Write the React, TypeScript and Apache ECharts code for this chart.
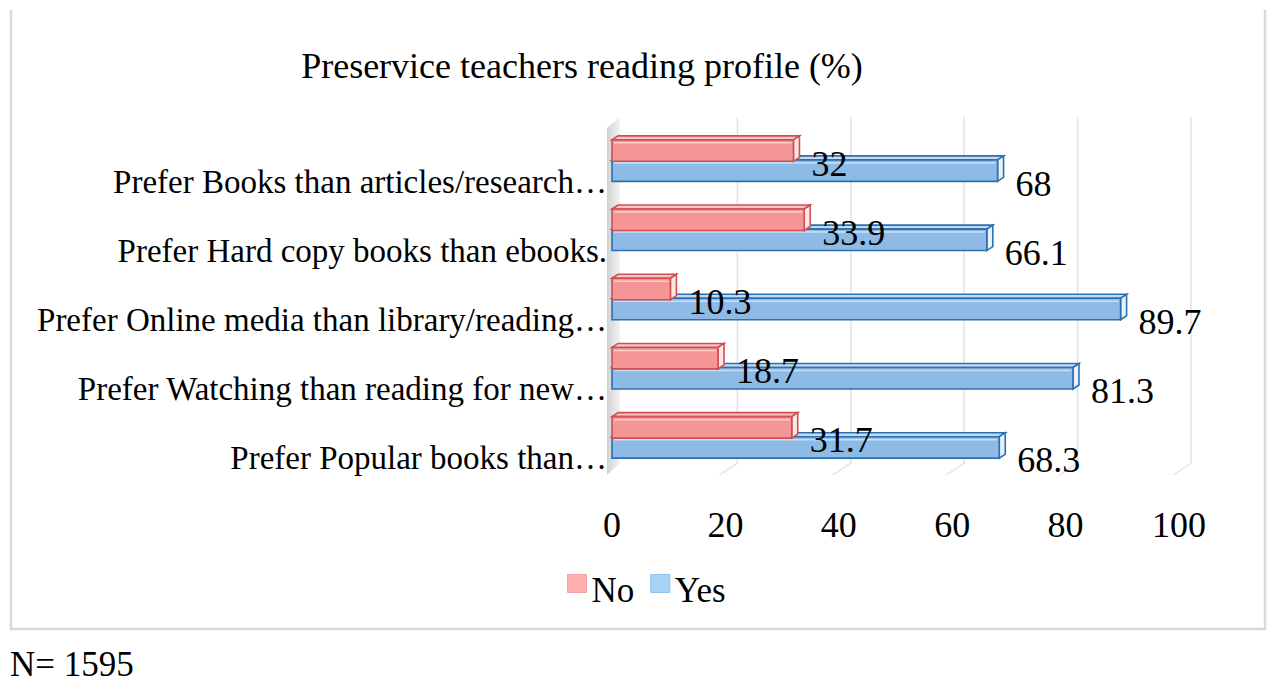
import React, { useEffect, useRef } from "react";
import * as echarts from "echarts";

// Survey items, top to bottom
const categories: string[] = [
  "Prefer Books than articles/research…",
  "Prefer Hard copy books than ebooks.",
  "Prefer Online media than library/reading…",
  "Prefer Watching than reading for new…",
  "Prefer Popular books than…",
];

// Percentages per answer
const noValues: number[] = [32, 33.9, 10.3, 18.7, 31.7];
const yesValues: number[] = [68, 66.1, 89.7, 81.3, 68.3];

// Value-axis ticks
const xTicks: number[] = [0, 20, 40, 60, 80, 100];

const FONT = '"Liberation Serif", "Times New Roman", serif';
const FS = 33;
const FS_NUM = 36;

// Depth of the 3D boxes and of the back wall
const BAR_DX = 6;
const BAR_DY = -4;
const WALL_DX = 12;
const WALL_DY = -9;

type Palette = {
  front: string;
  stroke: string;
  top: string;
  side: string;
};

const RED: Palette = { front: "#f59696", stroke: "#cf4f52", top: "#f9c4c4", side: "#fde6e6" };
const BLUE: Palette = { front: "#8dbbe6", stroke: "#2c70b2", top: "#c3dcf3", side: "#e9f2fb" };

function barRenderer(pal: Palette, sign: number) {
  return (params: any, api: any) => {
    const val = api.value(0);
    const cat = api.value(1);
    const s = api.coord([0, cat]);
    const e = api.coord([val, cat]);
    const band = api.size([0, 1])[1];
    const h = band * 0.31;
    const cy = s[1] + sign * band * 0.145;
    const y0 = cy - h / 2;
    const x0 = s[0];
    const x1 = e[0];
    const lw = 1.6;
    return {
      type: "group",
      children: [
        {
          type: "polygon",
          shape: {
            points: [
              [x0, y0],
              [x0 + BAR_DX, y0 + BAR_DY],
              [x1 + BAR_DX, y0 + BAR_DY],
              [x1, y0],
            ],
          },
          style: { fill: pal.top, stroke: pal.stroke, lineWidth: lw },
        },
        {
          type: "polygon",
          shape: {
            points: [
              [x1, y0],
              [x1 + BAR_DX, y0 + BAR_DY],
              [x1 + BAR_DX, y0 + h + BAR_DY],
              [x1, y0 + h],
            ],
          },
          style: { fill: pal.side, stroke: pal.stroke, lineWidth: lw },
        },
        {
          type: "rect",
          shape: { x: x0, y: y0, width: x1 - x0, height: h },
          style: { fill: pal.front, stroke: pal.stroke, lineWidth: lw },
        },
        {
          type: "line",
          shape: { x1: x0 + 2, y1: y0 + 3, x2: x1 - 2, y2: y0 + 3 },
          style: { stroke: "rgba(255,255,255,0.55)", lineWidth: 1.5 },
        },
        {
          type: "text",
          x: x1 + 18,
          y: cy + 13,
          style: {
            text: String(val),
            fontFamily: FONT,
            fontSize: FS_NUM,
            fill: "#000",
            align: "left",
            verticalAlign: "middle",
          },
        },
      ],
    };
  };
}

// Back wall gridlines, floor edges and the left side wall
function wallRenderer(params: any, api: any) {
  const cs = params.coordSys;
  const v = api.value(0);
  const xf = api.coord([v, 0])[0];
  const top = cs.y;
  const bottom = cs.y + cs.height;
  if (v === 0) {
    return {
      type: "polygon",
      shape: {
        points: [
          [xf - 5, top + 2],
          [xf + WALL_DX - 4, top + WALL_DY],
          [xf + WALL_DX - 4, bottom + WALL_DY],
          [xf - 5, bottom + 3],
        ],
      },
      style: {
        fill: new echarts.graphic.LinearGradient(0, 0, 1, 0, [
          { offset: 0, color: "#d2d2d2" },
          { offset: 1, color: "#f3f3f3" },
        ]),
      },
    };
  }
  return {
    type: "polyline",
    shape: {
      points: [
        [xf + WALL_DX, top + WALL_DY],
        [xf + WALL_DX, bottom + WALL_DY],
        [xf - 6, bottom + 3],
      ],
    },
    style: { stroke: "#e3e3e3", lineWidth: 1.5, fill: "none" },
  };
}

export default function App() {
  const ref = useRef<HTMLDivElement>(null);

  useEffect(() => {
    if (!ref.current) return;
    const chart = echarts.init(ref.current, null, { renderer: "svg" });
    const option: any = {
      animation: false,
      backgroundColor: "#ffffff",
      title: {
        text: "Preservice teachers reading profile (%)",
        left: 582,
        top: 48,
        textAlign: "center",
        padding: 0,
        textStyle: { fontFamily: FONT, fontSize: 36, fontWeight: "normal", color: "#000" },
      },
      legend: {
        data: [
          { name: "No", itemStyle: { color: "#ffb0b0", borderColor: "#f3a0a0", borderWidth: 1 } },
          { name: "Yes", itemStyle: { color: "#a8d3f7", borderColor: "#90c0ea", borderWidth: 1 } },
        ],
        icon: "rect",
        left: 562,
        top: 568,
        itemWidth: 19,
        itemHeight: 18,
        itemGap: 16,
        selectedMode: false,
        formatter: "{t|{name}}",
        textStyle: {
          fontFamily: FONT,
          fontSize: 35,
          color: "#000",
          rich: {
            t: { fontFamily: FONT, fontSize: 35, color: "#000", padding: [14, 0, 0, 0] },
          },
        },
      },
      grid: { left: 612, right: 97, top: 126, bottom: 216 },
      xAxis: {
        type: "value",
        min: xTicks[0],
        max: xTicks[xTicks.length - 1],
        interval: xTicks[1] - xTicks[0],
        axisLine: { show: false },
        axisTick: { show: false },
        splitLine: { show: false },
        axisLabel: { fontFamily: FONT, fontSize: FS_NUM, color: "#000", margin: 35 },
      },
      yAxis: {
        type: "category",
        data: categories,
        inverse: true,
        axisLine: { show: false },
        axisTick: { show: false },
        splitLine: { show: false },
        axisLabel: {
          fontFamily: FONT,
          fontSize: FS,
          color: "#000",
          margin: 5,
          verticalAlign: "top",
          lineHeight: 42,
        },
      },
      series: [
        {
          name: "walls",
          type: "custom",
          clip: false,
          z: 1,
          silent: true,
          renderItem: wallRenderer,
          data: xTicks.map((v) => [v, 0]),
        },
        {
          name: "Yes",
          type: "custom",
          clip: false,
          z: 2,
          itemStyle: { color: "#a8d3f7" },
          renderItem: barRenderer(BLUE, 1),
          data: yesValues.map((v, i) => [v, i]),
        },
        {
          name: "No",
          type: "custom",
          clip: false,
          z: 3,
          itemStyle: { color: "#ffb0b0" },
          renderItem: barRenderer(RED, -1),
          data: noValues.map((v, i) => [v, i]),
        },
      ],
      graphic: [
        {
          type: "polyline",
          silent: true,
          shape: {
            points: [
              [11, 10],
              [11, 629],
              [1265, 629],
              [1265, 10],
            ],
          },
          style: { stroke: "#d9d9d9", lineWidth: 2.5, fill: "none" },
        },
        {
          type: "text",
          x: 10,
          y: 664,
          style: {
            text: "N= 1595",
            fontFamily: FONT,
            fontSize: 35,
            fill: "#000",
            verticalAlign: "middle",
          },
        },
      ],
    };
    chart.setOption(option);
    return () => chart.dispose();
  }, []);

  return (
    <div
      ref={ref}
      style={{ position: "absolute", left: 0, top: 0, width: 1276, height: 688 }}
    />
  );
}
